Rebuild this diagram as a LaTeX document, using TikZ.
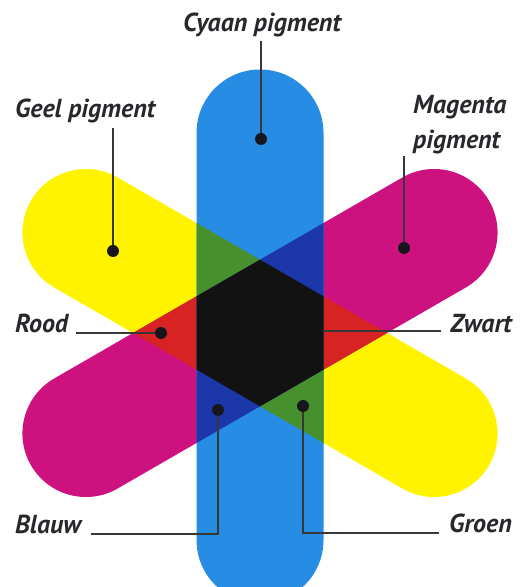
\documentclass[tikz,border=0pt]{standalone}
\usepackage{fontspec}
\newfontfamily\pigmentfont{PT Sans}
\usepackage{tikz}
\usetikzlibrary{positioning}
\definecolor{cyaan}{RGB}{38,140,228}
\definecolor{geel}{RGB}{255,243,0}
\definecolor{magenta}{RGB}{205,18,128}
\definecolor{rood}{RGB}{215,35,35}
\definecolor{groen}{RGB}{70,145,45}
\definecolor{blauw}{RGB}{28,55,170}
\definecolor{zwart}{RGB}{18,18,18}
\definecolor{stipkleur}{RGB}{22,22,28}
\definecolor{lijn}{RGB}{55,55,55}
\definecolor{tekst}{RGB}{40,40,44}
\newcommand\stadion[1]{(-#1,-63.5) -- (#1,-63.5) arc[start angle=-90,end angle=90,radius=63.5] -- (-#1,63.5) arc[start angle=90,end angle=270,radius=63.5] -- cycle}

\begin{document}
\begin{tikzpicture}[x=1pt,y=1pt,
cyaanband/.style={shift={(260,250.5)},rotate=90},
geelband/.style={shift={(260,254)},rotate=-30},
magentaband/.style={shift={(260,254)},rotate=30},
stip/.style={circle,fill=stipkleur,inner sep=0pt,minimum size=12pt},
etiket/.style={font=\pigmentfont\bfseries\itshape\fontsize{26}{29}\selectfont,text=tekst,inner sep=0pt},
leider/.style={draw=lijn,line width=1.1pt}
]
\useasboundingbox (0,0) rectangle (523,587);

% de drie banden en hun overlappingen
\begin{scope}
\clip (0,0) rectangle (523,587);
\fill[geel,geelband] \stadion{201};
\fill[magenta,magentaband] \stadion{201};
\fill[cyaan,cyaanband] \stadion{203.5};
\begin{scope}
\clip[geelband] \stadion{201};
\fill[rood,magentaband] \stadion{201};
\end{scope}
\begin{scope}
\clip[cyaanband] \stadion{203.5};
\fill[groen,geelband] \stadion{201};
\fill[blauw,magentaband] \stadion{201};
\clip[geelband] \stadion{201};
\fill[zwart,magentaband] \stadion{201};
\end{scope}
\end{scope}

\node[stip] (cyaandot) at (261,448) {};
\node[stip] (geeldot) at (113,336) {};
\node[stip] (magentadot) at (404,339) {};
\node[stip] (rooddot) at (161,254) {};
\node[stip] (blauwdot) at (218,177) {};
\node[stip] (groendot) at (303,181) {};
\coordinate (zwartpunt) at (323,256);

\node[etiket,anchor=base] (cyaanlbl) at (262,555) {Cyaan pigment};
\node[etiket,anchor=base west] (geellbl) at (15,469) {Geel pigment};
\node[etiket,anchor=north west,align=left] (magentalbl) at (413,492) {Magenta\\[6pt]pigment};
\node[etiket,anchor=base west] (roodlbl) at (15,254) {Rood};
\node[etiket,anchor=base east] (zwartlbl) at (512,254) {Zwart};
\node[etiket,anchor=base west] (blauwlbl) at (15,53) {Blauw};
\node[etiket,anchor=base east] (groenlbl) at (512,54) {Groen};

\draw[leider] ([yshift=-3pt]cyaanlbl.south -| cyaandot) -- (cyaandot);
\draw[leider] ([yshift=-4pt]geellbl.south -| geeldot) -- (geeldot);
\draw[leider] ([yshift=-2pt]magentalbl.south -| magentadot) -- (magentadot);
\draw[leider] (rooddot) -- ([xshift=8pt]roodlbl.base east |- rooddot);
\draw[leider] (zwartpunt) -- ([xshift=-9pt]zwartlbl.base west |- zwartpunt);
\draw[leider] (blauwdot) |- ([xshift=10pt]blauwlbl.base east);
\draw[leider] (groendot) |- ([xshift=-10pt]groenlbl.base west);
\end{tikzpicture}
\end{document}
